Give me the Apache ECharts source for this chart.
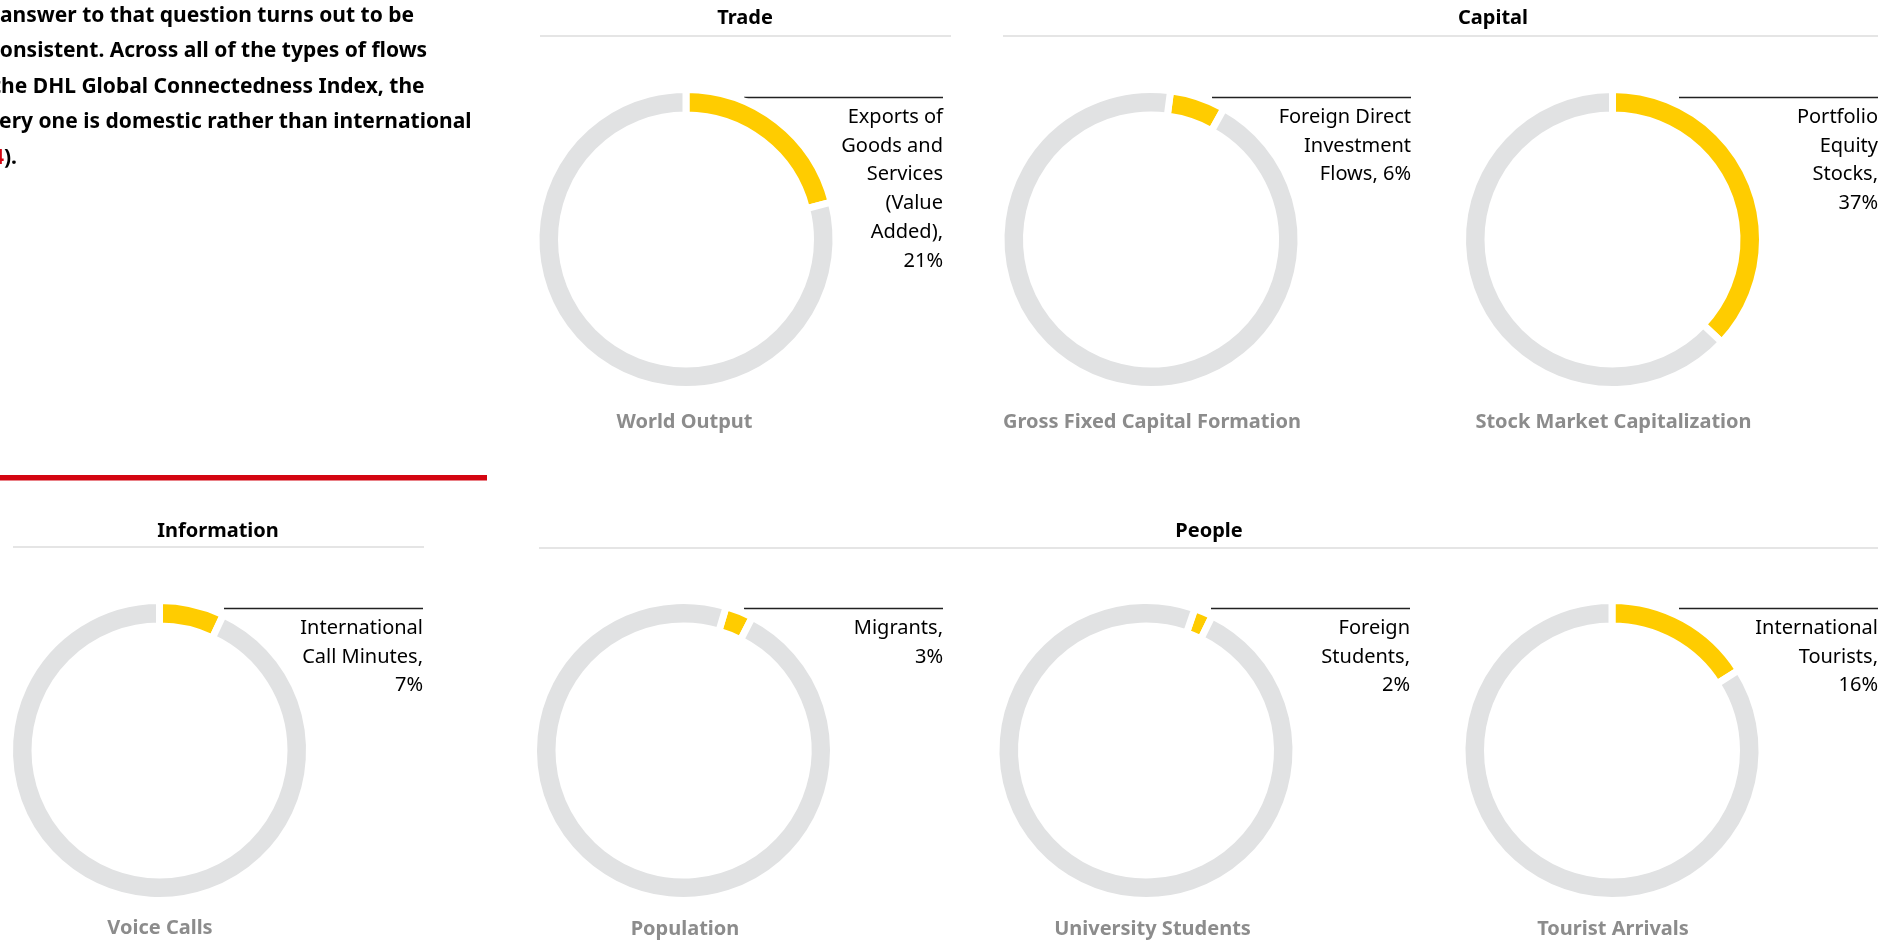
<!DOCTYPE html>
<html>
<head>
<meta charset="utf-8">
<title>Domestic vs international flows</title>
<script src="https://cdn.jsdelivr.net/npm/echarts@6.0.0/dist/echarts.min.js"></script>
<style>
  html, body { margin: 0; padding: 0; background: #fff; overflow: hidden; }
  #main { width: 1901px; height: 941px; }
</style>
</head>
<body>
<div id="main"></div>
<script>
// section headers
var groups = ['Trade', 'Capital', 'Information', 'People'];
// totals (caption under each ring)
var totals = ['World Output', 'Gross Fixed Capital Formation', 'Stock Market Capitalization',
  'Voice Calls', 'Population', 'University Students', 'Tourist Arrivals'];
// international part, as written in the callout
var flows = ['Exports of\nGoods and\nServices\n(Value\nAdded),', 'Foreign Direct\nInvestment\nFlows,',
  'Portfolio\nEquity\nStocks,', 'International\nCall Minutes,', 'Migrants,', 'Foreign\nStudents,',
  'International\nTourists,'];
// international share of each total, %
var shares = [21, 6, 37, 7, 3, 2, 16];
// does the % go on its own line in the callout
var shareOwnLine = [true, false, true, true, true, true, true];
// intro paragraph, cut off by the left edge of the page
var introLines = ['answer to that question turns out to be', 'consistent. Across all of the types of flows',
  'the DHL Global Connectedness Index, the', 'every one is domestic rather than international'];

var YELLOW = '#ffcc00', GREY = '#e1e2e3', RED = '#d40511';
var FONT = '"Noto Sans", sans-serif';

// layout (px / degrees)
var centres = [[686, 239.5], [1151, 239.5], [1612.5, 239.5], [159.5, 750.5], [683.5, 750.5], [1146, 750.5], [1612, 750.5]];
var ringTurn = [0, 7.5, 0, 0, 16.5, 19, 0];   // small slices are turned towards the callout
var calloutRight = [943, 1411, 1878, 423, 943, 1410, 1878];
var captionPos = [[684.5, 422], [1152, 422], [1613.5, 422], [160, 928], [685, 929], [1152.5, 929], [1613, 929]];
var headerPos = [[745, 18], [1493, 18], [218, 531], [1209, 531]];
var dividers = [[540, 951, 36], [1003, 1878, 36], [13, 424, 547], [539, 1878, 548]];
var introX = [0, -11, -8, -25];

var myChart = echarts.init(document.getElementById('main'));

var series = shares.map(function (v, i) {
  return {
    type: 'pie',
    center: centres[i],
    radius: [124.5, 150],
    startAngle: 90 - ringTurn[i],
    clockwise: true,
    silent: true,
    animation: false,
    avoidLabelOverlap: false,
    itemStyle: { borderColor: '#fff', borderWidth: 7 },
    label: { show: false },
    labelLine: { show: false },
    labelLayout: function (p) {
      var r = calloutRight[p.seriesIndex];
      var ly = Math.round(centres[p.seriesIndex][1] - 142.5) + 0.5;
      return {
        x: r,
        y: ly + 5.5,
        align: 'right',
        verticalAlign: 'top',
        labelLinePoints: [[r - 199, ly], [r - 100, ly], [r, ly]]
      };
    },
    data: [
      {
        name: flows[i], value: v,
        itemStyle: { color: YELLOW },
        label: {
          show: true,
          formatter: function (p) {
            return p.name + (shareOwnLine[p.seriesIndex] ? '\n' : ' ') + p.value + '%';
          },
          fontFamily: FONT, fontSize: 20, lineHeight: 28.7, color: '#000'
        },
        labelLine: { show: true, lineStyle: { color: '#222', width: 1.5, opacity: 1 } }
      },
      { name: 'Domestic', value: 100 - v, itemStyle: { color: GREY } }
    ]
  };
});

var graphic = [];
// intro text
introLines.forEach(function (t, i) {
  graphic.push({ type: 'text', x: introX[i], y: 16 + i * 35.5,
    style: { text: t, fill: '#000', font: 'bold 21px ' + FONT, textAlign: 'left', textVerticalAlign: 'middle' } });
});
graphic.push({ type: 'text', x: -8, y: 16 + 4 * 35.5,
  style: { text: '4', fill: RED, font: 'bold 21px ' + FONT, textAlign: 'left', textVerticalAlign: 'middle' } });
graphic.push({ type: 'text', x: 4, y: 16 + 4 * 35.5,
  style: { text: ').', fill: '#000', font: 'bold 21px ' + FONT, textAlign: 'left', textVerticalAlign: 'middle' } });
// red rule
graphic.push({ type: 'rect', shape: { x: 0, y: 475, width: 487, height: 5.5 }, style: { fill: RED } });
// section headers and their rules
groups.forEach(function (g, i) {
  graphic.push({ type: 'text', x: headerPos[i][0], y: headerPos[i][1],
    style: { text: g, fill: '#000', font: 'bold 20px ' + FONT, textAlign: 'center', textVerticalAlign: 'middle' } });
  var d = dividers[i];
  graphic.push({ type: 'line', shape: { x1: d[0], y1: d[2], x2: d[1], y2: d[2] },
    style: { stroke: '#dcdcdc', lineWidth: 1.5 } });
});
// captions under rings
totals.forEach(function (t, i) {
  graphic.push({ type: 'text', x: captionPos[i][0], y: captionPos[i][1],
    style: { text: t, fill: '#8c8c8c', font: 'bold 20px ' + FONT, textAlign: 'center', textVerticalAlign: 'middle' } });
});

myChart.setOption({
  animation: false,
  backgroundColor: '#fff',
  series: series,
  graphic: graphic
});
</script>
</body>
</html>
